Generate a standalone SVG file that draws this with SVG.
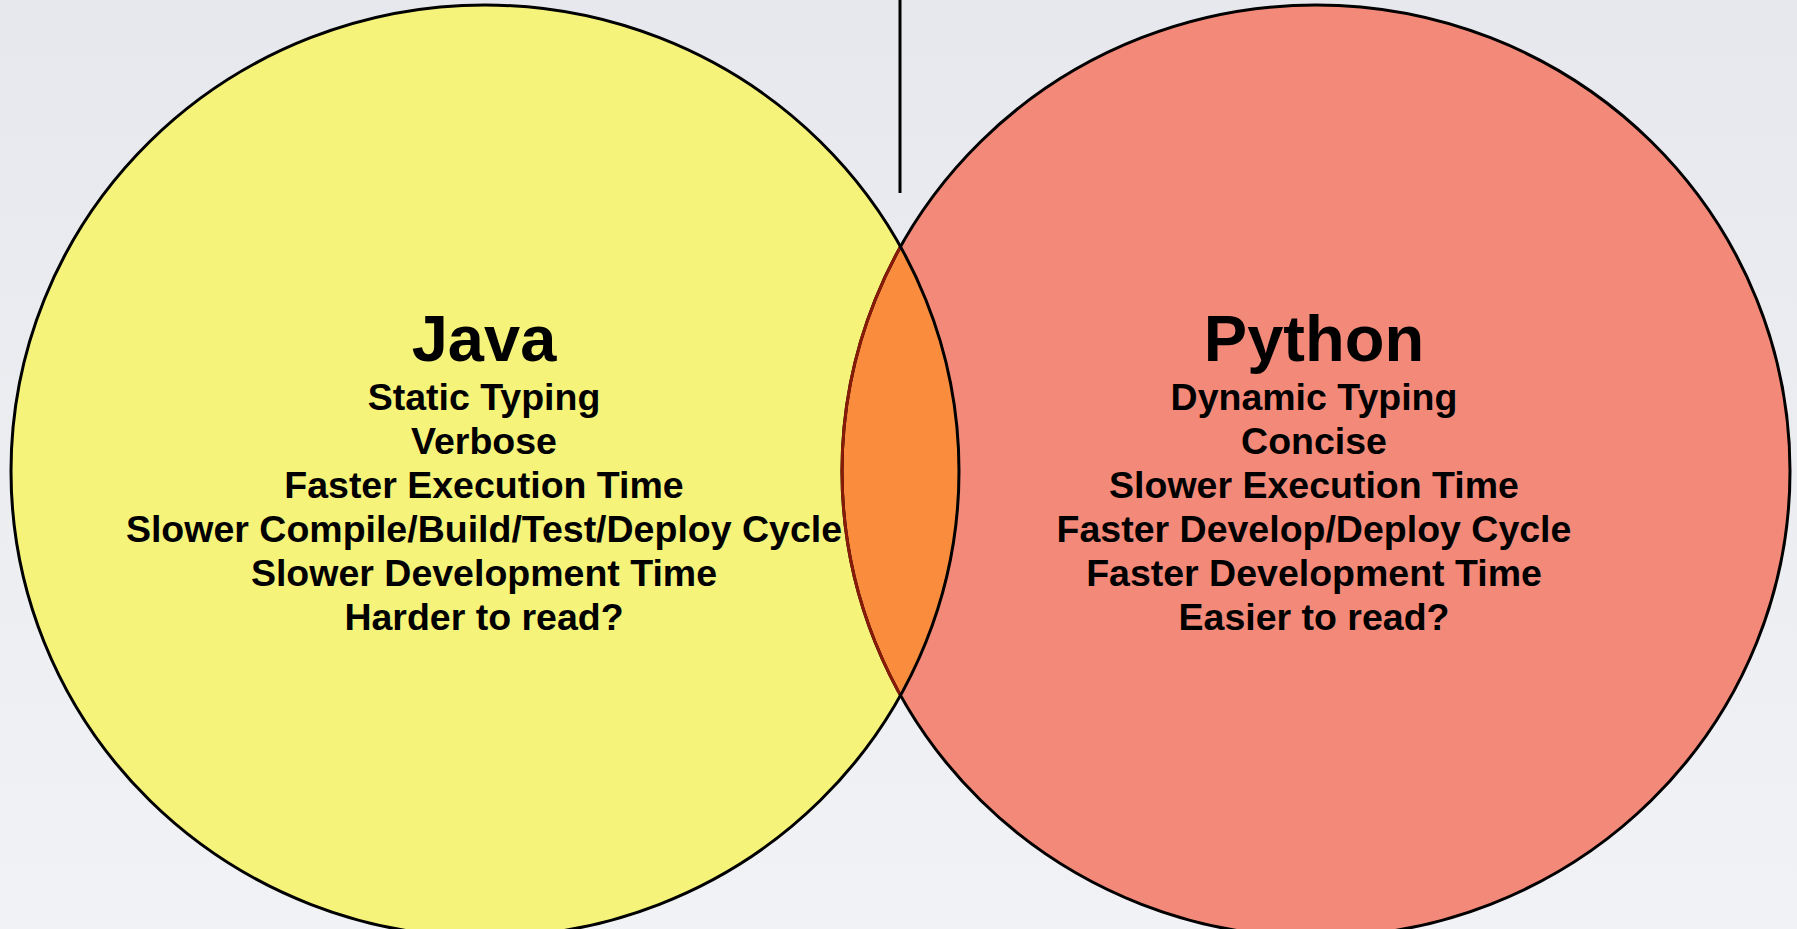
<svg xmlns="http://www.w3.org/2000/svg" width="1797" height="929" viewBox="0 0 1797 929">
  <defs>
    <linearGradient id="bg" x1="0" y1="0" x2="0" y2="1">
      <stop offset="0" stop-color="#e6e8ed"/>
      <stop offset="1" stop-color="#f1f2f5"/>
    </linearGradient>
    <clipPath id="clip-java">
      <ellipse cx="485" cy="471" rx="474" ry="466"/>
    </clipPath>
    <style>
      .ring { stroke: #000; stroke-width: 3; }
      .title { font-family: "Liberation Sans", Arial, sans-serif; font-weight: bold; font-size: 65px; fill: #000; text-anchor: middle; }
      .item { font-family: "Liberation Sans", Arial, sans-serif; font-weight: bold; font-size: 37.5px; fill: #000; text-anchor: middle; }
    </style>
  </defs>

  <rect width="1797" height="929" fill="url(#bg)"/>

  <!-- divider line at the top -->
  <g id="connectors">
    <line x1="900" y1="0" x2="900" y2="193" stroke="#000" stroke-width="3"/>
  </g>

  <!-- Java set -->
  <g id="java">
    <ellipse cx="485" cy="471" rx="474" ry="466" fill="#f5f37a"/>
  </g>

  <!-- Python set -->
  <g id="python">
    <ellipse cx="1316" cy="471" rx="474" ry="466" fill="#f38a79"/>
  </g>

  <!-- overlap lens -->
  <g id="overlap">
    <ellipse cx="1316" cy="471" rx="474" ry="466" fill="#f98d3d" clip-path="url(#clip-java)"/>
  </g>

  <!-- outlines -->
  <g id="outlines" fill="none">
    <ellipse class="ring" cx="1316" cy="471" rx="474" ry="466"/>
    <ellipse cx="1316" cy="471" rx="474" ry="466" stroke="#8a1a08" stroke-width="3" clip-path="url(#clip-java)"/>
    <ellipse class="ring" cx="485" cy="471" rx="474" ry="466"/>
  </g>

  <g id="java-text">
    <text class="title" x="484" y="361">Java</text>
    <text class="item" x="484" y="410">Static Typing</text>
    <text class="item" x="484" y="454">Verbose</text>
    <text class="item" x="484" y="498">Faster Execution Time</text>
    <text class="item" x="484" y="542">Slower Compile/Build/Test/Deploy Cycle</text>
    <text class="item" x="484" y="586">Slower Development Time</text>
    <text class="item" x="484" y="630">Harder to read?</text>
  </g>

  <g id="python-text">
    <text class="title" x="1314" y="361">Python</text>
    <text class="item" x="1314" y="410">Dynamic Typing</text>
    <text class="item" x="1314" y="454">Concise</text>
    <text class="item" x="1314" y="498">Slower Execution Time</text>
    <text class="item" x="1314" y="542">Faster Develop/Deploy Cycle</text>
    <text class="item" x="1314" y="586">Faster Development Time</text>
    <text class="item" x="1314" y="630">Easier to read?</text>
  </g>
</svg>
